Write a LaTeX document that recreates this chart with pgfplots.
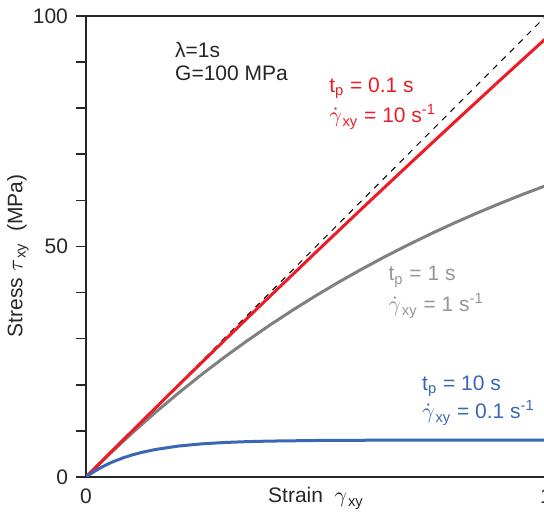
\documentclass[border=0pt]{standalone}
\usepackage{fontspec}
\setmainfont{Liberation Sans}
\usepackage{pgfplots}
\pgfplotsset{compat=1.18}
\definecolor{cred}{RGB}{237,28,36}
\definecolor{cgray}{RGB}{128,128,128}
\definecolor{cgraytxt}{RGB}{150,150,150}
\definecolor{cblue}{RGB}{58,102,181}
\newcommand{\fs}{\fontsize{10.5}{12.5}\selectfont}
\newcommand{\gd}{\(\dot{\gamma}\)\kern0.4pt}
\begin{document}
\begin{tikzpicture}[font=\fs]
\begin{axis}[
  scale only axis, width=230pt, height=230.5pt,
  xmin=0, xmax=1, ymin=0, ymax=100,
  xtick={0,1}, ytick={0,50,100},
  minor ytick={10,20,30,40,60,70,80,90},
  tick align=outside, major tick length=5pt, minor tick length=5pt,
  xtick style={draw=none},
  axis line style={line width=1pt, black!85},
  every tick/.style={black!85, line width=0.8pt},
  /pgf/number format/assume math mode=true,
  tick label style={font=\fs, text=black!85},
  xticklabel style={anchor=base, yshift=-8pt},
  yticklabel style={xshift=-0.5pt},
  xlabel={Strain\ \ \(\gamma\)\kern0.4pt\textsubscript{xy}},
  ylabel={Stress \(\tau\)\kern0.4pt\textsubscript{xy}\ \ (MPa)},
  xlabel style={at={(axis description cs:0.5,-0.0564)}, anchor=base, font=\fs, text=black!85},
  ylabel style={at={(axis description cs:-0.148,0.48)}, anchor=center, font=\fs, text=black!85},
  clip=true,
]
\addplot[black, dashed, line width=0.5pt] coordinates {(0,0) (1,100)};
\addplot[cgray, line width=1.5pt] coordinates {
(0,0) (0.05,4.88) (0.1,9.52) (0.15,13.93) (0.2,18.13) (0.25,22.12) (0.3,25.92)
(0.35,29.53) (0.4,32.97) (0.45,36.24) (0.5,39.35) (0.55,42.31) (0.6,45.12)
(0.65,47.80) (0.7,50.34) (0.75,52.76) (0.8,55.07) (0.85,57.26) (0.9,59.34)
(0.95,61.33) (1.0,63.21)};
\addplot[cred, line width=1.5pt] coordinates {
(0,0) (0.1,9.95) (0.2,19.80) (0.3,29.55) (0.4,39.21) (0.5,48.77) (0.6,58.24)
(0.7,67.60) (0.8,76.88) (0.9,86.07) (1.0,95.16)};
\addplot[cblue, line width=1.5pt] coordinates {
(0,0) (0.01,0.70) (0.02,1.33) (0.03,1.91) (0.04,2.44) (0.05,2.92) (0.06,3.36)
(0.08,4.13) (0.10,4.78) (0.12,5.31) (0.15,5.95) (0.2,6.70) (0.25,7.18)
(0.3,7.48) (0.35,7.67) (0.4,7.79) (0.5,7.92) (0.6,7.97) (0.7,7.99) (0.8,8.0) (1.0,8.0)};
\begin{scope}[every node/.style={anchor=west, inner sep=0pt}]
\node[text=black!85] at (axis cs:0.193,92.6) {λ=1s};
\node[text=black!85] at (axis cs:0.193,87.6) {G=100 MPa};
\node[text=cred] at (axis cs:0.528,84.4) {t\textsubscript{p} = 0.1 s};
\node[text=cred] at (axis cs:0.528,78.1) {\gd\textsubscript{xy} = 10 s\textsuperscript{-1}};
\node[text=cgraytxt] at (axis cs:0.657,43.4) {t\textsubscript{p} = 1 s};
\node[text=cgraytxt] at (axis cs:0.657,37.1) {\gd\textsubscript{xy} = 1 s\textsuperscript{-1}};
\node[text=cblue] at (axis cs:0.730,19.7) {t\textsubscript{p} = 10 s};
\node[text=cblue] at (axis cs:0.730,13.9) {\gd\textsubscript{xy} = 0.1 s\textsuperscript{-1}};
\end{scope}
\end{axis}
\pgfresetboundingbox
\useasboundingbox (-43pt,-17.5pt) rectangle (229pt,238.5pt);
\end{tikzpicture}
\end{document}
